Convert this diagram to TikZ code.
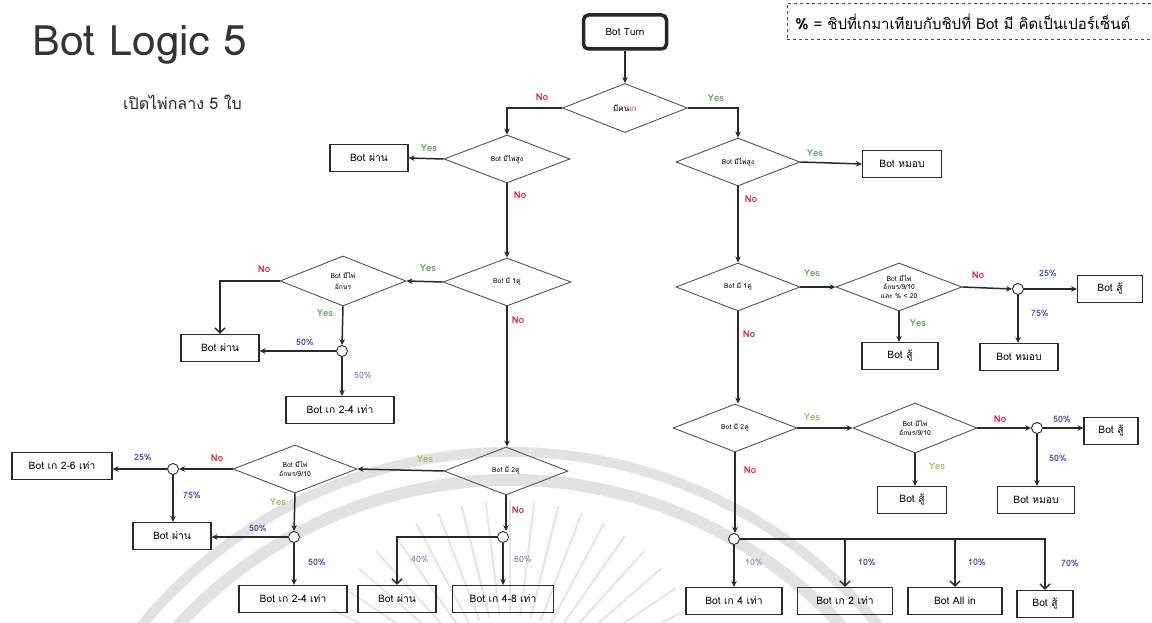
\documentclass[tikz,border=0pt]{standalone}
\usepackage{fontspec}
\setmainfont[Script=Thai]{Loma}
\usetikzlibrary{shapes.geometric,arrows.meta,calc}
\definecolor{nored}{HTML}{D42A3A}
\definecolor{yesgreen}{HTML}{5FA35F}
\definecolor{yesolive}{HTML}{AEB46A}
\definecolor{pctblue}{HTML}{4650A0}
\definecolor{pctpale}{HTML}{8E94C8}
\definecolor{lineg}{HTML}{2A2A2A}
\definecolor{diag}{HTML}{555555}
\definecolor{wmark}{HTML}{E2E2E2}

\begin{document}
\begin{tikzpicture}[x=1pt,y=-1pt,
  box/.style={draw=lineg, line width=1.1pt, minimum width=#1, minimum height=27pt,
    inner sep=0pt, font=\fontsize{10.3}{12}\selectfont},
  box/.default=78pt,
  dia/.style={draw=diag, line width=0.9pt, shape=diamond, minimum width=126pt,
    minimum height=48pt, inner sep=0pt, aspect=2.6, align=center,
    font=\fontsize{6.8}{8.2}\selectfont},
  cnode/.style={circle, draw=lineg, line width=0.9pt, fill=white, minimum size=11pt, inner sep=0pt},
  arr/.style={draw=lineg, line width=1.5pt, -{Stealth[length=6pt,width=5.5pt]}},
  barb/.style={draw=lineg, line width=1.5pt, -{Straight Barb[length=5pt,width=10pt]}},
  lab/.style={inner sep=0pt, font=\bfseries\fontsize{9.5}{10}\selectfont},
  yes/.style={lab, text=yesgreen},
  yeso/.style={lab, text=yesolive},
  no/.style={lab, text=nored},
  pct/.style={lab, text=pctblue, font=\bfseries\fontsize{8.8}{10}\selectfont},
  pctp/.style={lab, text=pctpale, font=\bfseries\fontsize{8.8}{10}\selectfont},
]
\useasboundingbox (0,0) rectangle (1152,623);
\fill[white] (0,0) rectangle (1152,623);

% faint watermark behind the chart
\begin{scope}
  \clip (0,0) rectangle (1152,623);
  \draw[wmark, line width=10pt] (96,691) arc[start angle=-150, end angle=-30, radius=478];
  \draw[wmark, line width=12pt] (120,705) arc[start angle=-150, end angle=-30, radius=450];
  \foreach \a in {-160,-153,...,-20}
    \draw[wmark!85, line width=2pt] ($(510,700)+(\a:85)$) -- ($(510,700)+(\a:200)$);
\end{scope}

% titles and legend
\node[anchor=base west, inner sep=0pt, font=\fontsize{42}{46}\selectfont, text=black!80] (title) at (32,56) {Bot Logic 5};
\node[anchor=base west, inner sep=0pt, font=\fontsize{16}{18}\selectfont, text=black!85] (sub) at (123,110) {เปิดไพ่กลาง 5 ใบ};
\node[anchor=west, draw=black!70, dashed, line width=0.8pt, minimum height=36pt, inner xsep=8pt,
      text width=370pt, align=left, font=\fontsize{15}{17}\selectfont] (legend) at (787,21.5)
      {\textbf{\%} = ชิปที่เกมาเทียบกับชิปที่ Bot มี คิดเป็นเปอร์เซ็นต์};

% start
\node[draw=black!85, line width=3.5pt, rounded corners=5pt, minimum width=83pt, minimum height=34pt,
      font=\fontsize{10}{12}\selectfont] (turn) at (625,32) {Bot Turn};

% decision diamonds
\node[dia, minimum width=125pt, minimum height=49pt, font=\fontsize{8}{9}\selectfont] (D1) at (625,108) {มีคน\textcolor{nored}{เก}};
\node[dia] (D2) at (507,159) {Bot มีไพ่สูง};
\node[dia, minimum width=128pt] (D3) at (507,282) {Bot มี 1คู่};
\node[dia, minimum height=50pt] (D4) at (343,281) {Bot มีไพ่\\[2pt]อักษร};
\node[dia, minimum width=124pt] (D5) at (506,471) {Bot มี 2คู่};
\node[dia, minimum width=124pt] (D6) at (295,469) {Bot มีไพ่\\อักษร/9/10};
\node[dia, minimum width=124pt] (D7) at (738,162) {Bot มีไพ่สูง};
\node[dia, minimum width=124pt] (D8) at (738,287) {Bot มี 1คู่};
\node[dia] (D9) at (899,287) {Bot มีไพ่\\อักษร/9/10\\และ \% < 20};
\node[dia, minimum width=124pt] (D10) at (735,428) {Bot มี 2คู่};
\node[dia, minimum width=124pt, minimum height=50pt] (D11) at (915,428) {Bot มีไพ่\\อักษร/9/10};

% split points
\node[cnode] (C1) at (342,351) {};
\node[cnode] (C2) at (173,469) {};
\node[cnode] (C3) at (294,537) {};
\node[cnode] (C4) at (503,537) {};
\node[cnode] (C5) at (1018,289) {};
\node[cnode] (C6) at (1037,428) {};
\node[cnode] (C7) at (734,539) {};

% outcomes
\node[box] (bA) at (369,158) {Bot ผ่าน};
\node[box] (bB) at (220,348) {Bot ผ่าน};
\node[box=108pt] (bC) at (340,410) {Bot เก 2-4 เท่า};
\node[box=100pt] (bD) at (62,466) {Bot เก 2-6 เท่า};
\node[box] (bE) at (172,536) {Bot ผ่าน};
\node[box=108pt] (bF) at (293,599) {Bot เก 2-4 เท่า};
\node[box] (bG) at (397,599) {Bot ผ่าน};
\node[box=101pt] (bH) at (503,599) {Bot เก 4-8 เท่า};
\node[box=79pt] (bI) at (902,164) {Bot หมอบ};
\node[box=65pt] (bJ) at (1110,289) {Bot สู้};
\node[box] (bK) at (1019,357) {Bot หมอบ};
\node[box=76pt] (bL) at (900,356) {Bot สู้};
\node[box=54pt] (bM) at (1111,431) {Bot สู้};
\node[box=77pt] (bN) at (1036,500) {Bot หมอบ};
\node[box=69pt] (bO) at (912,500) {Bot สู้};
\node[box=96pt] (bP) at (734,601) {Bot เก 4 เท่า};
\node[box=95pt] (bQ) at (845,601) {Bot เก 2 เท่า};
\node[box=94pt] (bR) at (955,601) {Bot All in};
\node[box=56pt] (bS) at (1045,604) {Bot สู้};

% connectors
\draw[arr] (turn.south) -- (D1.north);
\draw[arr] (D1.west) -| (D2.north);
\draw[arr] (D1.east) -| (D7.north);
\draw[arr] (D2.west) -- (bA.east);
\draw[arr] (D2.south) -- (D3.north);
\draw[arr] (D3.west) -- (D4.east);
\draw[barb] (D4.west) -| (bB.north);
\draw[arr] (D4.south) -- (C1.north);
\draw[arr] (C1.west) -- (C1.west -| bB.east);
\draw[arr] (C1.south) -- (C1.south |- bC.north);
\draw[arr] (D3.south) -- (D3.south |- D5.north);
\draw[arr] (D5.west) -- (D6.east);
\draw[arr] (D6.west) -- (C2.east);
\draw[arr] (C2.west) -- (C2.west -| bD.east);
\draw[arr] (C2.south) -- (C2.south |- bE.north);
\draw[arr] (D6.south) -- (C3.north);
\draw[arr] (C3.west) -- (C3.west -| bE.east);
\draw[arr] (C3.south) -- (C3.south |- bF.north);
\draw[arr] (D5.south) -- (D5.south |- C4.north);
\draw[barb] (C4.west) -| (bG.north);
\draw[arr] (C4.south) -- (bH.north);

\draw[arr] (D7.east) -- (bI.west);
\draw[arr] (D7.south) -- (D8.north);
\draw[arr] (D8.east) -- (D9.west);
\draw[arr] (D9.east) -- (C5.west);
\draw[arr] (C5.east) -- (C5.east -| bJ.west);
\draw[arr] (C5.south) -- (C5.south |- bK.north);
\draw[arr] (D9.south) -- (D9.south |- bL.north);
\draw[arr] (D8.south) -- (D8.south |- D10.north);
\draw[arr] (D10.east) -- (D11.west);
\draw[arr] (D11.east) -- (C6.west);
\draw[arr] (C6.east) -- (C6.east -| bM.west);
\draw[arr] (C6.south) -- (C6.south |- bN.north);
\draw[arr] (D11.south) -- (D11.south |- bO.north);
\draw[arr] (D10.south) -- (D10.south |- C7.north);
\draw[arr] (C7.south) -- (bP.north);
\coordinate (j1) at (bQ.north |- C7.east);
\coordinate (j2) at (bR.north |- C7.east);
\draw[barb] (C7.east) -| (bS.north);
\draw[barb] (j1) -- (bQ.north);
\draw[barb] (j2) -- (bR.north);

% branch labels
\node[no]  (l1)  at (542,97)  {No};
\node[yes] (l2)  at (716,98)  {Yes};
\node[yes] (l3)  at (429,148) {Yes};
\node[no]  (l4)  at (520,195) {No};
\node[yes] (l5)  at (428,268) {Yes};
\node[no]  (l6)  at (264,269) {No};
\node[yes] (l7)  at (325,313) {Yes};
\node[pct] (l8)  at (305,342) {50\%};
\node[pctp] (l9) at (363,375) {50\%};
\node[no]  (l10) at (518,320) {No};
\node[yeso] (l11) at (425,459) {Yes};
\node[no]  (l12) at (217,458) {No};
\node[pct] (l13) at (143,457) {25\%};
\node[pct] (l14) at (192,495) {75\%};
\node[yeso] (l15) at (278,502) {Yes};
\node[pct] (l16) at (258,528) {50\%};
\node[pct] (l17) at (317,562) {50\%};
\node[no]  (l18) at (518,510) {No};
\node[pctp] (l19) at (420,559) {40\%};
\node[pctp] (l20) at (523,559) {60\%};
\node[yes] (l21) at (815,153) {Yes};
\node[no]  (l22) at (751,199) {No};
\node[yes] (l23) at (812,273) {Yes};
\node[no]  (l24) at (978,275) {No};
\node[pct] (l25) at (1048,273) {25\%};
\node[pct] (l26) at (1040,313) {75\%};
\node[yes] (l27) at (918,323) {Yes};
\node[no]  (l28) at (749,334) {No};
\node[yeso] (l29) at (812,417) {Yes};
\node[no]  (l30) at (1000,419) {No};
\node[pct] (l31) at (1062,419) {50\%};
\node[pct] (l32) at (1058,458) {50\%};
\node[yeso] (l33) at (937,466) {Yes};
\node[no]  (l34) at (750,470) {No};
\node[pctp] (l35) at (754,562) {10\%};
\node[pct] (l36) at (867,562) {10\%};
\node[pct] (l37) at (977,562) {10\%};
\node[pct] (l38) at (1070,563) {70\%};
\end{tikzpicture}
\end{document}
